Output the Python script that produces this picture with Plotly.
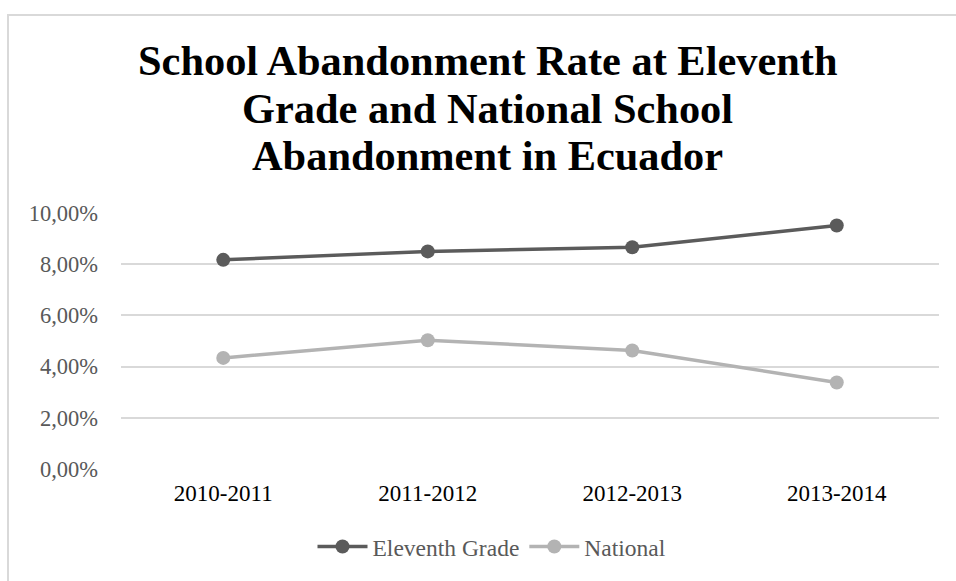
import plotly.graph_objects as go

categories = ["2010-2011", "2011-2012", "2012-2013", "2013-2014"]
eleventh_grade = [8.17, 8.50, 8.66, 9.51]
national = [4.34, 5.03, 4.63, 3.38]
y_tickvals = [0, 2, 4, 6, 8, 10]
y_ticktext = ["0,00%", "2,00%", "4,00%", "6,00%", "8,00%", "10,00%"]
title_lines = [
    "School Abandonment Rate at Eleventh",
    "Grade and National School",
    "Abandonment in Ecuador",
]

SERIF = "Liberation Serif, Times New Roman, serif"
W, H = 956, 581
L, R, T, B = 121, 17, 213, 108
pw = W - L - R
ph = H - T - B

def px(x):
    return (x - L) / pw

def py(y):
    return (H - B - y) / ph

fig = go.Figure()
fig.add_trace(go.Scatter(
    x=categories, y=eleventh_grade, name="Eleventh Grade", mode="lines+markers",
    line=dict(color="#5b5b5b", width=3.5),
    marker=dict(color="#5b5b5b", size=14),
))
fig.add_trace(go.Scatter(
    x=categories, y=national, name="National", mode="lines+markers",
    line=dict(color="#b3b3b3", width=3.5),
    marker=dict(color="#b3b3b3", size=14),
))

title_y = [58, 107, 155]
annotations = [
    dict(text="<b>%s</b>" % t, x=px(487.5), y=py(yy), xref="paper", yref="paper",
         xanchor="center", yanchor="middle", showarrow=False,
         font=dict(family=SERIF, size=42.4, color="#000000"))
    for t, yy in zip(title_lines, title_y)
]

fig.update_layout(
    width=W, height=H,
    margin=dict(l=L, r=R, t=T, b=B),
    paper_bgcolor="white", plot_bgcolor="white",
    font=dict(family=SERIF, size=22, color="#595959"),
    annotations=annotations,
    xaxis=dict(
        range=[-0.5, 3.5], showgrid=False, zeroline=False, showline=False,
        ticks="", tickfont=dict(family=SERIF, color="#000000", size=23), ticklabelstandoff=8,
    ),
    yaxis=dict(
        range=[0, 10], tickvals=y_tickvals, ticktext=y_ticktext,
        showgrid=True, gridcolor="#d9d9d9", gridwidth=1.5, zeroline=False,
        showline=False, ticks="", ticklabelstandoff=22,
        tickfont=dict(family=SERIF, color="#595959", size=22.5),
    ),
    legend=dict(
        orientation="h", x=px(492), xanchor="center", y=py(552), yanchor="middle",
        font=dict(family=SERIF, size=23.5, color="#595959"), itemwidth=50,
    ),
    showlegend=True,
    shapes=[dict(
        type="rect", xref="paper", yref="paper",
        x0=px(8), x1=px(1200), y0=py(12), y1=py(800),
        line=dict(color="#d9d9d9", width=2), fillcolor="rgba(0,0,0,0)", layer="below",
    )],
)

fig.write_html("out.html")
